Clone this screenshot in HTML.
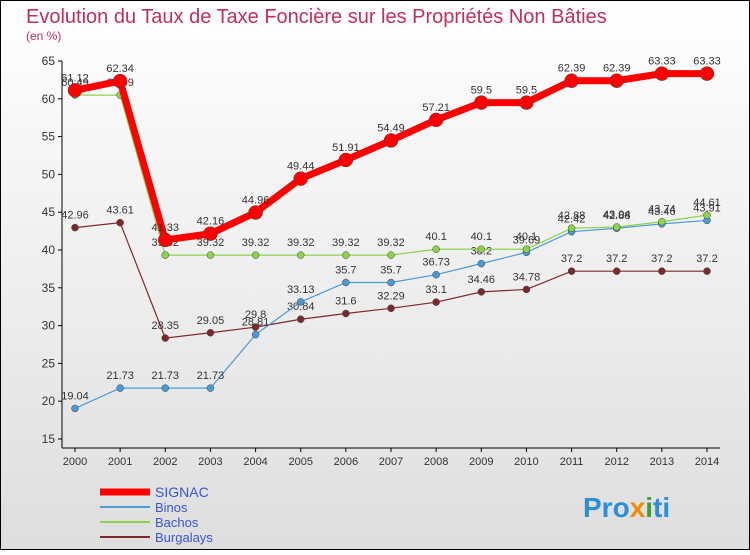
<!DOCTYPE html>
<html><head><meta charset="utf-8">
<style>
body{margin:0;width:750px;height:550px;overflow:hidden;font-family:"Liberation Sans",sans-serif}
svg text{font-family:"Liberation Sans",sans-serif}
</style></head><body>
<svg id="c" width="750" height="550">
<defs><linearGradient id="bg" x1="0" y1="0" x2="0" y2="1"><stop offset="0" stop-color="#ffffff"/><stop offset="1" stop-color="#dedede"/></linearGradient></defs>
<rect x="0.5" y="0.5" width="749" height="549" fill="url(#bg)" stroke="#000"/>
<text x="26" y="23" font-size="20" fill="#c0305a">Evolution du Taux de Taxe Foncière sur les Propriétés Non Bâties</text>
<text x="26" y="40" font-size="12" fill="#c0305a">(en %)</text>
<g id="axes"></g><g id="series"></g><g id="legend"></g>
<text x="583" y="517" font-size="28" font-weight="bold" fill="#2a8fd6">Pro<tspan fill="#f08a00">x</tspan><tspan fill="#3aa03a">i</tspan>ti</text>
</svg>
<script>
const years=[2000,2001,2002,2003,2004,2005,2006,2007,2008,2009,2010,2011,2012,2013,2014];
const yTicks=[15,20,25,30,35,40,45,50,55,60,65];
const signac=[61.12,62.34,41.33,42.16,44.96,49.44,51.91,54.49,57.21,59.5,59.5,62.39,62.39,63.33,63.33];
const binos=[19.04,21.73,21.73,21.73,28.81,33.13,35.7,35.7,36.73,38.2,39.69,42.42,42.88,43.46,43.91];
const bachos=[60.49,60.49,39.32,39.32,39.32,39.32,39.32,39.32,40.1,40.1,40.1,42.88,43.04,43.74,44.61];
const burgalays=[42.96,43.61,28.35,29.05,29.8,30.84,31.6,32.29,33.1,34.46,34.78,37.2,37.2,37.2,37.2];
const NS='http://www.w3.org/2000/svg';
const X=i=>75+i*(707-75)/14;
const Y=v=>439-(v-15)*(439-61)/50;
function el(t,a,p){const e=document.createElementNS(NS,t);for(const k in a)e.setAttribute(k,a[k]);p.appendChild(e);return e;}
const ax=document.getElementById('axes');
let l=el('line',{x1:62,y1:61,x2:62,y2:448,stroke:'#000'},ax);


l=el('line',{x1:62,y1:448,x2:720,y2:448,stroke:'#000'},ax);


yTicks.forEach(v=>{el('line',{x1:58,x2:62,y1:Y(v),y2:Y(v),stroke:'#000'},ax);
const t=el('text',{x:55,y:Y(v)+4,'text-anchor':'end','font-size':12,fill:'#333'},ax);t.textContent=v;

});
years.forEach((y,i)=>{el('line',{x1:X(i),x2:X(i),y1:448,y2:452,stroke:'#000'},ax);
const t=el('text',{x:X(i),y:465,'text-anchor':'middle','font-size':11,fill:'#333'},ax);t.textContent=y;

});
const ser=[
{n:'Burgalays',d:burgalays,c:'#7a2a2a',w:1.2,r:3.5},
{n:'Binos',d:binos,c:'#4a9ad6',w:1.2,r:3.5},
{n:'Bachos',d:bachos,c:'#8ad44a',w:1.2,r:3.5},
{n:'SIGNAC',d:signac,c:'#ff0000',w:7,r:7}];
const sg=document.getElementById('series');
ser.forEach(s=>{const g=el('g',{},sg);


const p=el('polyline',{points:s.d.map((v,i)=>X(i)+','+Y(v)).join(' '),fill:'none',stroke:s.c,'stroke-width':s.w},g);


s.d.forEach((v,i)=>{const c=el('circle',{cx:X(i),cy:Y(v),r:s.r,fill:s.c,stroke:'#444','stroke-width':0.5},g);


const t=el('text',{x:X(i),y:Y(v)-9,'text-anchor':'middle','font-size':11,fill:'#333'},g);t.textContent=v;

});});
const lg=document.getElementById('legend');
[['SIGNAC','#ff0000',7,14],['Binos','#4a9ad6',2,13],['Bachos','#8ad44a',2,13],['Burgalays','#7a2a2a',2,13]].forEach((e,i)=>{
const y=492+i*15;const g=el('g',{},lg);


el('line',{x1:100,x2:150,y1:y,y2:y,stroke:e[1],'stroke-width':e[2]},g);
const t=el('text',{x:155,y:y+5,'font-size':e[3],fill:'#3a55d0'},g);t.textContent=e[0];});
</script>
</body></html>
